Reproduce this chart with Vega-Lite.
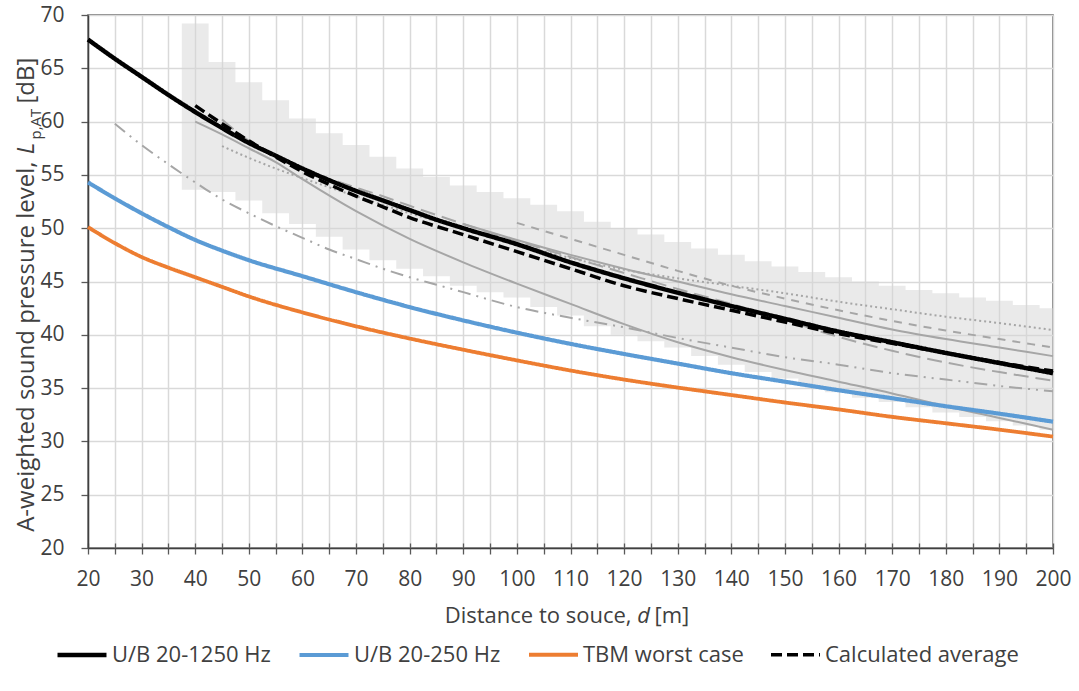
{
  "$schema": "https://vega.github.io/schema/vega-lite/v6.json",
  "width": 965,
  "height": 533,
  "autosize": {"type": "none"},
  "padding": {"left": 88, "top": 15, "right": 26, "bottom": 143},
  "config": {
    "font": "Open Sans",
    "view": {"stroke": "#595959", "strokeWidth": 1.5},
    "axis": {
      "labelFont": "Open Sans",
      "titleFont": "Open Sans",
      "labelColor": "#404040",
      "titleColor": "#404040",
      "titleFontWeight": "normal"
    },
    "legend": {"labelFont": "Open Sans"}
  },
  "datasets": {
    "band": [
      {"d": 37.5, "lo": 53.6, "hi": 69.2},
      {"d": 40, "lo": 53.6, "hi": 69.2},
      {"d": 45, "lo": 53.4, "hi": 65.6},
      {"d": 50, "lo": 52.6, "hi": 63.7},
      {"d": 55, "lo": 51.4, "hi": 62.0},
      {"d": 60, "lo": 50.4, "hi": 60.3},
      {"d": 65, "lo": 49.2, "hi": 58.9},
      {"d": 70, "lo": 48.0, "hi": 57.8},
      {"d": 75, "lo": 47.0, "hi": 56.7},
      {"d": 80, "lo": 46.2, "hi": 55.6},
      {"d": 85, "lo": 45.5, "hi": 54.8},
      {"d": 90, "lo": 44.6, "hi": 54.0},
      {"d": 95, "lo": 44.0, "hi": 53.4},
      {"d": 100, "lo": 43.5, "hi": 52.8},
      {"d": 105, "lo": 42.6, "hi": 52.2},
      {"d": 110, "lo": 41.8, "hi": 51.6},
      {"d": 115, "lo": 40.8, "hi": 50.6},
      {"d": 120, "lo": 40.0, "hi": 50.0},
      {"d": 125, "lo": 39.4, "hi": 49.4},
      {"d": 130, "lo": 38.8, "hi": 48.7},
      {"d": 135, "lo": 38.0, "hi": 48.1},
      {"d": 140, "lo": 37.2, "hi": 47.5},
      {"d": 145, "lo": 36.5, "hi": 46.9},
      {"d": 150, "lo": 35.9, "hi": 46.4},
      {"d": 155, "lo": 35.2, "hi": 45.9},
      {"d": 160, "lo": 34.6, "hi": 45.4},
      {"d": 165, "lo": 34.1, "hi": 45.0},
      {"d": 170, "lo": 33.7, "hi": 44.6},
      {"d": 175, "lo": 33.2, "hi": 44.2},
      {"d": 180, "lo": 32.7, "hi": 43.9},
      {"d": 185, "lo": 32.3, "hi": 43.5},
      {"d": 190, "lo": 31.9, "hi": 43.2},
      {"d": 195, "lo": 31.5, "hi": 42.8},
      {"d": 200, "lo": 31.1, "hi": 42.5}
    ],
    "lines": [
      {"s": "TBM worst case", "d": 20, "L": 50.1},
      {"s": "TBM worst case", "d": 25, "L": 48.6},
      {"s": "TBM worst case", "d": 30, "L": 47.3},
      {"s": "TBM worst case", "d": 35, "L": 46.3},
      {"s": "TBM worst case", "d": 40, "L": 45.4},
      {"s": "TBM worst case", "d": 45, "L": 44.5},
      {"s": "TBM worst case", "d": 50, "L": 43.6},
      {"s": "TBM worst case", "d": 60, "L": 42.1},
      {"s": "TBM worst case", "d": 70, "L": 40.8},
      {"s": "TBM worst case", "d": 80, "L": 39.65},
      {"s": "TBM worst case", "d": 90, "L": 38.6},
      {"s": "TBM worst case", "d": 100, "L": 37.6},
      {"s": "TBM worst case", "d": 110, "L": 36.65},
      {"s": "TBM worst case", "d": 120, "L": 35.8},
      {"s": "TBM worst case", "d": 130, "L": 35.05},
      {"s": "TBM worst case", "d": 140, "L": 34.35},
      {"s": "TBM worst case", "d": 150, "L": 33.65},
      {"s": "TBM worst case", "d": 160, "L": 33.0},
      {"s": "TBM worst case", "d": 170, "L": 32.3},
      {"s": "TBM worst case", "d": 180, "L": 31.7},
      {"s": "TBM worst case", "d": 190, "L": 31.1},
      {"s": "TBM worst case", "d": 200, "L": 30.45},

      {"s": "U/B 20-250 Hz", "d": 20, "L": 54.3},
      {"s": "U/B 20-250 Hz", "d": 25, "L": 52.8},
      {"s": "U/B 20-250 Hz", "d": 30, "L": 51.4},
      {"s": "U/B 20-250 Hz", "d": 35, "L": 50.1},
      {"s": "U/B 20-250 Hz", "d": 40, "L": 48.9},
      {"s": "U/B 20-250 Hz", "d": 45, "L": 47.9},
      {"s": "U/B 20-250 Hz", "d": 50, "L": 47.0},
      {"s": "U/B 20-250 Hz", "d": 60, "L": 45.5},
      {"s": "U/B 20-250 Hz", "d": 70, "L": 44.0},
      {"s": "U/B 20-250 Hz", "d": 80, "L": 42.6},
      {"s": "U/B 20-250 Hz", "d": 90, "L": 41.35},
      {"s": "U/B 20-250 Hz", "d": 100, "L": 40.2},
      {"s": "U/B 20-250 Hz", "d": 110, "L": 39.15},
      {"s": "U/B 20-250 Hz", "d": 120, "L": 38.2},
      {"s": "U/B 20-250 Hz", "d": 130, "L": 37.3},
      {"s": "U/B 20-250 Hz", "d": 140, "L": 36.4},
      {"s": "U/B 20-250 Hz", "d": 150, "L": 35.6},
      {"s": "U/B 20-250 Hz", "d": 160, "L": 34.8},
      {"s": "U/B 20-250 Hz", "d": 170, "L": 34.05},
      {"s": "U/B 20-250 Hz", "d": 180, "L": 33.3},
      {"s": "U/B 20-250 Hz", "d": 190, "L": 32.6},
      {"s": "U/B 20-250 Hz", "d": 200, "L": 31.85},

      {"s": "U/B 20-1250 Hz", "d": 20, "L": 67.7},
      {"s": "U/B 20-1250 Hz", "d": 25, "L": 65.9},
      {"s": "U/B 20-1250 Hz", "d": 30, "L": 64.2},
      {"s": "U/B 20-1250 Hz", "d": 35, "L": 62.5},
      {"s": "U/B 20-1250 Hz", "d": 40, "L": 60.9},
      {"s": "U/B 20-1250 Hz", "d": 45, "L": 59.4},
      {"s": "U/B 20-1250 Hz", "d": 50, "L": 58.0},
      {"s": "U/B 20-1250 Hz", "d": 55, "L": 56.8},
      {"s": "U/B 20-1250 Hz", "d": 60, "L": 55.6},
      {"s": "U/B 20-1250 Hz", "d": 65, "L": 54.5},
      {"s": "U/B 20-1250 Hz", "d": 70, "L": 53.5},
      {"s": "U/B 20-1250 Hz", "d": 75, "L": 52.6},
      {"s": "U/B 20-1250 Hz", "d": 80, "L": 51.7},
      {"s": "U/B 20-1250 Hz", "d": 85, "L": 50.8},
      {"s": "U/B 20-1250 Hz", "d": 90, "L": 50.0},
      {"s": "U/B 20-1250 Hz", "d": 100, "L": 48.5},
      {"s": "U/B 20-1250 Hz", "d": 110, "L": 46.8},
      {"s": "U/B 20-1250 Hz", "d": 120, "L": 45.3},
      {"s": "U/B 20-1250 Hz", "d": 130, "L": 43.95},
      {"s": "U/B 20-1250 Hz", "d": 140, "L": 42.7},
      {"s": "U/B 20-1250 Hz", "d": 150, "L": 41.5},
      {"s": "U/B 20-1250 Hz", "d": 160, "L": 40.3},
      {"s": "U/B 20-1250 Hz", "d": 170, "L": 39.3},
      {"s": "U/B 20-1250 Hz", "d": 180, "L": 38.3},
      {"s": "U/B 20-1250 Hz", "d": 190, "L": 37.35},
      {"s": "U/B 20-1250 Hz", "d": 200, "L": 36.4},

      {"s": "Calculated average", "d": 40, "L": 61.5},
      {"s": "Calculated average", "d": 45, "L": 59.8},
      {"s": "Calculated average", "d": 50, "L": 58.2},
      {"s": "Calculated average", "d": 55, "L": 56.7},
      {"s": "Calculated average", "d": 60, "L": 55.3},
      {"s": "Calculated average", "d": 65, "L": 54.1},
      {"s": "Calculated average", "d": 70, "L": 53.0},
      {"s": "Calculated average", "d": 75, "L": 52.0},
      {"s": "Calculated average", "d": 80, "L": 51.0},
      {"s": "Calculated average", "d": 90, "L": 49.4},
      {"s": "Calculated average", "d": 100, "L": 47.8},
      {"s": "Calculated average", "d": 110, "L": 46.2},
      {"s": "Calculated average", "d": 120, "L": 44.6},
      {"s": "Calculated average", "d": 130, "L": 43.4},
      {"s": "Calculated average", "d": 140, "L": 42.3},
      {"s": "Calculated average", "d": 150, "L": 41.2},
      {"s": "Calculated average", "d": 160, "L": 40.1},
      {"s": "Calculated average", "d": 170, "L": 39.2},
      {"s": "Calculated average", "d": 180, "L": 38.3},
      {"s": "Calculated average", "d": 190, "L": 37.4},
      {"s": "Calculated average", "d": 200, "L": 36.6},

      {"s": "g1", "d": 25, "L": 59.8},
      {"s": "g1", "d": 30, "L": 57.8},
      {"s": "g1", "d": 35, "L": 56.0},
      {"s": "g1", "d": 40, "L": 54.3},
      {"s": "g1", "d": 45, "L": 52.7},
      {"s": "g1", "d": 50, "L": 51.4},
      {"s": "g1", "d": 55, "L": 50.2},
      {"s": "g1", "d": 60, "L": 49.1},
      {"s": "g1", "d": 65, "L": 48.0},
      {"s": "g1", "d": 70, "L": 47.1},
      {"s": "g1", "d": 75, "L": 46.2},
      {"s": "g1", "d": 80, "L": 45.4},
      {"s": "g1", "d": 85, "L": 44.7},
      {"s": "g1", "d": 90, "L": 44.0},
      {"s": "g1", "d": 100, "L": 42.6},
      {"s": "g1", "d": 110, "L": 41.6},
      {"s": "g1", "d": 120, "L": 40.7},
      {"s": "g1", "d": 130, "L": 39.7},
      {"s": "g1", "d": 140, "L": 38.8},
      {"s": "g1", "d": 150, "L": 37.9},
      {"s": "g1", "d": 160, "L": 37.2},
      {"s": "g1", "d": 170, "L": 36.4},
      {"s": "g1", "d": 180, "L": 35.8},
      {"s": "g1", "d": 190, "L": 35.2},
      {"s": "g1", "d": 200, "L": 34.7},

      {"s": "g2", "d": 45, "L": 60.2},
      {"s": "g2", "d": 50, "L": 58.2},
      {"s": "g2", "d": 55, "L": 56.8},
      {"s": "g2", "d": 60, "L": 55.6},
      {"s": "g2", "d": 70, "L": 53.8},
      {"s": "g2", "d": 75, "L": 53.0},
      {"s": "g2", "d": 80, "L": 52.1},
      {"s": "g2", "d": 90, "L": 50.4},
      {"s": "g2", "d": 100, "L": 48.8},
      {"s": "g2", "d": 110, "L": 47.3},
      {"s": "g2", "d": 120, "L": 45.8},
      {"s": "g2", "d": 130, "L": 44.3},
      {"s": "g2", "d": 140, "L": 42.9},
      {"s": "g2", "d": 150, "L": 41.4},
      {"s": "g2", "d": 160, "L": 39.8},
      {"s": "g2", "d": 170, "L": 38.5},
      {"s": "g2", "d": 180, "L": 37.4},
      {"s": "g2", "d": 190, "L": 36.5},
      {"s": "g2", "d": 200, "L": 35.7},

      {"s": "g3", "d": 40, "L": 60.0},
      {"s": "g3", "d": 45, "L": 58.8},
      {"s": "g3", "d": 50, "L": 57.5},
      {"s": "g3", "d": 55, "L": 56.2},
      {"s": "g3", "d": 60, "L": 54.6},
      {"s": "g3", "d": 70, "L": 51.6},
      {"s": "g3", "d": 80, "L": 49.0},
      {"s": "g3", "d": 90, "L": 46.8},
      {"s": "g3", "d": 100, "L": 44.8},
      {"s": "g3", "d": 110, "L": 42.9},
      {"s": "g3", "d": 120, "L": 41.0},
      {"s": "g3", "d": 130, "L": 39.3},
      {"s": "g3", "d": 140, "L": 37.9},
      {"s": "g3", "d": 150, "L": 36.7},
      {"s": "g3", "d": 160, "L": 35.6},
      {"s": "g3", "d": 170, "L": 34.5},
      {"s": "g3", "d": 180, "L": 33.3},
      {"s": "g3", "d": 190, "L": 32.2},
      {"s": "g3", "d": 200, "L": 31.1},

      {"s": "g4", "d": 100, "L": 50.5},
      {"s": "g4", "d": 110, "L": 49.0},
      {"s": "g4", "d": 120, "L": 47.5},
      {"s": "g4", "d": 130, "L": 46.0},
      {"s": "g4", "d": 140, "L": 44.6},
      {"s": "g4", "d": 150, "L": 43.4},
      {"s": "g4", "d": 160, "L": 42.3},
      {"s": "g4", "d": 170, "L": 41.3},
      {"s": "g4", "d": 180, "L": 40.4},
      {"s": "g4", "d": 190, "L": 39.6},
      {"s": "g4", "d": 200, "L": 38.8},

      {"s": "g5", "d": 90, "L": 50.4},
      {"s": "g5", "d": 100, "L": 48.9},
      {"s": "g5", "d": 110, "L": 47.5},
      {"s": "g5", "d": 120, "L": 46.2},
      {"s": "g5", "d": 130, "L": 45.0},
      {"s": "g5", "d": 140, "L": 43.8},
      {"s": "g5", "d": 150, "L": 42.7},
      {"s": "g5", "d": 160, "L": 41.6},
      {"s": "g5", "d": 170, "L": 40.5},
      {"s": "g5", "d": 180, "L": 39.6},
      {"s": "g5", "d": 190, "L": 38.8},
      {"s": "g5", "d": 200, "L": 38.0},

      {"s": "g6", "d": 45, "L": 57.7},
      {"s": "g6", "d": 50, "L": 56.6},
      {"s": "g6", "d": 55, "L": 55.6},
      {"s": "g6", "d": 60, "L": 54.7},
      {"s": "g6", "d": 70, "L": 53.0},
      {"s": "g6", "d": 80, "L": 51.4},
      {"s": "g6", "d": 90, "L": 49.9},
      {"s": "g6", "d": 100, "L": 48.5},
      {"s": "g6", "d": 110, "L": 47.2},
      {"s": "g6", "d": 120, "L": 46.1},
      {"s": "g6", "d": 130, "L": 45.3},
      {"s": "g6", "d": 140, "L": 44.6},
      {"s": "g6", "d": 150, "L": 43.9},
      {"s": "g6", "d": 160, "L": 43.1},
      {"s": "g6", "d": 170, "L": 42.4},
      {"s": "g6", "d": 180, "L": 41.7},
      {"s": "g6", "d": 190, "L": 41.1},
      {"s": "g6", "d": 200, "L": 40.45}
    ]
  },
  "resolve": {"axis": {"x": "independent", "y": "independent"}},
  "layer": [
    {
      "data": {"name": "band"},
      "mark": {"type": "area", "interpolate": "step", "color": "#d6d6d6", "opacity": 0.5},
      "encoding": {
        "x": {
          "field": "d", "type": "quantitative",
          "scale": {"domain": [20, 200], "nice": false, "zero": false},
          "axis": {
            "orient": "bottom",
            "values": [20, 25, 30, 35, 40, 45, 50, 55, 60, 65, 70, 75, 80, 85, 90, 95, 100, 105, 110, 115, 120, 125, 130, 135, 140, 145, 150, 155, 160, 165, 170, 175, 180, 185, 190, 195, 200],
            "labelExpr": "datum.value % 10 === 0 ? datum.label : ''",
            "labelOverlap": false,
            "labelFlush": false,
            "labelFontSize": 21,
            "labelPadding": 14,
            "grid": true, "gridColor": "#d9d9d9", "gridWidth": 1.5,
            "domainColor": "#404040", "domainWidth": 1.5,
            "tickColor": "#595959", "tickSize": 6, "tickWidth": 1.3,
            "title": "Distance to souce,",
            "titleFontSize": 22,
            "titleX": 543, "titleY": 74,
            "titleAlign": "right", "titleBaseline": "alphabetic"
          }
        },
        "y": {
          "field": "lo", "type": "quantitative",
          "scale": {"domain": [20, 70], "nice": false, "zero": false},
          "axis": {
            "orient": "left",
            "values": [20, 25, 30, 35, 40, 45, 50, 55, 60, 65, 70],
            "labelFontSize": 21,
            "labelPadding": 17,
            "labelFlush": false,
            "grid": true, "gridColor": "#d9d9d9", "gridWidth": 1.5,
            "domainColor": "#404040", "domainWidth": 1.5,
            "tickColor": "#595959", "tickSize": 7, "tickWidth": 1.3,
            "title": "A-weighted sound pressure level,",
            "titleFontSize": 24,
            "titleAngle": -90,
            "titleX": -55, "titleY": 146,
            "titleAlign": "right", "titleBaseline": "alphabetic"
          }
        },
        "y2": {"field": "hi"}
      }
    },
    {
      "data": {"name": "lines"},
      "transform": [{"filter": {"field": "s", "oneOf": ["g3", "g5"]}}],
      "mark": {"type": "line", "interpolate": "monotone", "color": "#a6a6a6", "strokeWidth": 2},
      "encoding": {
        "x": {
          "field": "d", "type": "quantitative",
          "axis": {
            "orient": "bottom",
            "values": [20, 25, 30, 35, 40, 45, 50, 55, 60, 65, 70, 75, 80, 85, 90, 95, 100, 105, 110, 115, 120, 125, 130, 135, 140, 145, 150, 155, 160, 165, 170, 175, 180, 185, 190, 195, 200],
            "labels": false, "grid": false, "domain": false,
            "ticks": true, "tickSize": -5, "tickColor": "#595959", "tickWidth": 1.3,
            "title": "d",
            "titleFontSize": 22, "titleFontStyle": "italic",
            "titleX": 555, "titleY": 74,
            "titleAlign": "center", "titleBaseline": "alphabetic"
          }
        },
        "y": {
          "field": "L", "type": "quantitative",
          "axis": {
            "orient": "left",
            "labels": false, "grid": false, "domain": false, "ticks": false,
            "title": "L",
            "titleFontSize": 24, "titleFontStyle": "italic",
            "titleAngle": -90,
            "titleX": -55, "titleY": 133,
            "titleAlign": "center", "titleBaseline": "alphabetic"
          }
        },
        "detail": {"field": "s"}
      }
    },
    {
      "data": {"name": "lines"},
      "transform": [{"filter": {"field": "s", "equal": "g1"}}],
      "mark": {"type": "line", "interpolate": "monotone", "color": "#a6a6a6", "strokeWidth": 2, "strokeDash": [13, 6, 2, 6, 2, 6]},
      "encoding": {
        "x": {"field": "d", "type": "quantitative", "axis": null},
        "y": {
          "field": "L", "type": "quantitative",
          "axis": {
            "orient": "left",
            "labels": false, "grid": false, "domain": false, "ticks": false,
            "title": "p,AT",
            "titleFontSize": 15,
            "titleAngle": -90,
            "titleX": -48, "titleY": 124,
            "titleAlign": "left", "titleBaseline": "alphabetic"
          }
        }
      }
    },
    {
      "data": {"name": "lines"},
      "transform": [{"filter": {"field": "s", "equal": "g2"}}],
      "mark": {"type": "line", "interpolate": "monotone", "color": "#a6a6a6", "strokeWidth": 2, "strokeDash": [15, 7]},
      "encoding": {
        "x": {
          "field": "d", "type": "quantitative",
          "axis": {
            "orient": "bottom",
            "labels": false, "grid": false, "domain": false, "ticks": false,
            "title": "[m]",
            "titleFontSize": 22,
            "titleX": 566, "titleY": 74,
            "titleAlign": "left", "titleBaseline": "alphabetic"
          }
        },
        "y": {
          "field": "L", "type": "quantitative",
          "axis": {
            "orient": "left",
            "labels": false, "grid": false, "domain": false, "ticks": false,
            "title": "[dB]",
            "titleFontSize": 24,
            "titleAngle": -90,
            "titleX": -55, "titleY": 88,
            "titleAlign": "left", "titleBaseline": "alphabetic"
          }
        }
      }
    },
    {
      "data": {"name": "lines"},
      "transform": [{"filter": {"field": "s", "equal": "g4"}}],
      "mark": {"type": "line", "interpolate": "monotone", "color": "#a6a6a6", "strokeWidth": 2, "strokeDash": [8, 7]},
      "encoding": {
        "x": {"field": "d", "type": "quantitative", "axis": null},
        "y": {"field": "L", "type": "quantitative", "axis": null}
      }
    },
    {
      "data": {"name": "lines"},
      "transform": [{"filter": {"field": "s", "equal": "g6"}}],
      "mark": {"type": "line", "interpolate": "monotone", "color": "#a6a6a6", "strokeWidth": 2, "strokeDash": [2, 3]},
      "encoding": {
        "x": {"field": "d", "type": "quantitative", "axis": null},
        "y": {"field": "L", "type": "quantitative", "axis": null}
      }
    },
    {
      "data": {"name": "lines"},
      "transform": [{"filter": {"field": "s", "oneOf": ["TBM worst case", "U/B 20-250 Hz", "U/B 20-1250 Hz", "Calculated average"]}}],
      "mark": {"type": "line", "interpolate": "monotone"},
      "encoding": {
        "x": {"field": "d", "type": "quantitative", "axis": null},
        "y": {"field": "L", "type": "quantitative", "axis": null},
        "color": {
          "field": "s", "type": "nominal",
          "scale": {
            "domain": ["U/B 20-1250 Hz", "U/B 20-250 Hz", "TBM worst case", "Calculated average"],
            "range": ["#000000", "#5b9bd5", "#ed7d31", "#000000"]
          },
          "legend": {
            "orient": "none", "legendX": -33, "legendY": 613,
            "direction": "horizontal", "title": null,
            "symbolType": "stroke", "symbolSize": 2400, "symbolStrokeWidth": 4.5,
            "labelFontSize": 22, "labelColor": "#404040", "labelOffset": 3,
            "labelLimit": 0,
            "columnPadding": 20
          }
        },
        "strokeDash": {
          "field": "s", "type": "nominal",
          "scale": {
            "domain": ["U/B 20-1250 Hz", "U/B 20-250 Hz", "TBM worst case", "Calculated average"],
            "range": [[1, 0], [1, 0], [1, 0], [11, 5]]
          },
          "legend": {
            "orient": "none", "legendX": -33, "legendY": 613,
            "direction": "horizontal", "title": null,
            "symbolType": "stroke", "symbolSize": 2400, "symbolStrokeWidth": 4.5,
            "labelFontSize": 22, "labelColor": "#404040", "labelOffset": 3,
            "labelLimit": 0,
            "columnPadding": 20
          }
        },
        "strokeWidth": {
          "field": "s", "type": "nominal",
          "scale": {
            "domain": ["U/B 20-1250 Hz", "U/B 20-250 Hz", "TBM worst case", "Calculated average"],
            "range": [4.5, 3.5, 3.5, 4]
          },
          "legend": null
        }
      }
    }
  ]
}
